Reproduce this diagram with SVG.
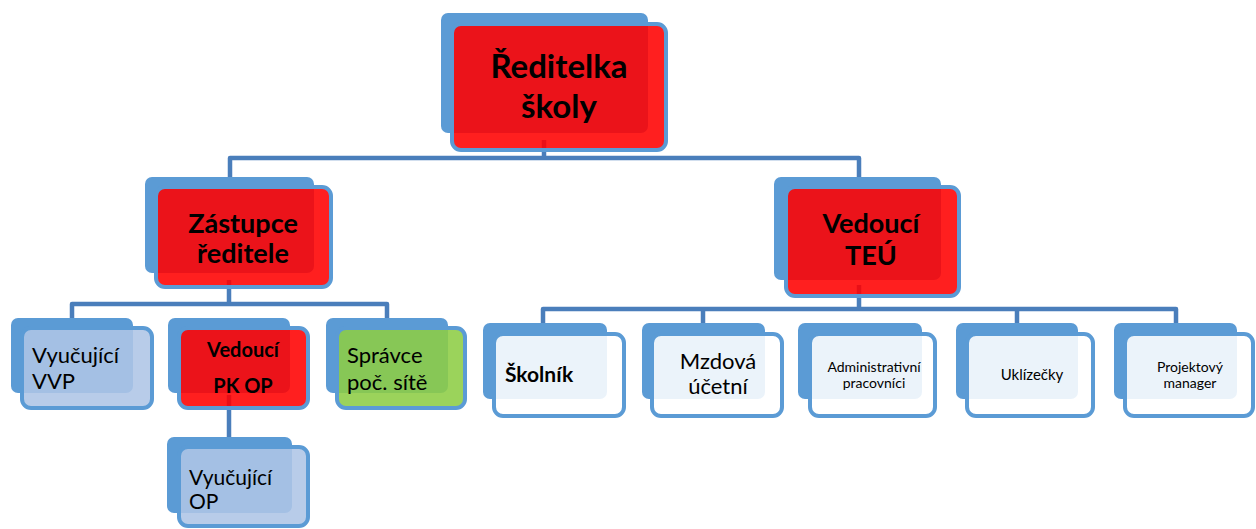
<svg xmlns="http://www.w3.org/2000/svg" width="1256" height="529" viewBox="0 0 1256 529">
<style>
.back{fill:#5B9BD5}
.front{stroke:#5B9BD5;stroke-width:4;fill-opacity:0.88}
.red{fill:#FF0000}
.lb{fill:#AEC5E6}
.gr{fill:#8DCD44}
.wh{fill:#FFFFFF}
.conn{fill:none;stroke:#4A7EBB;stroke-width:4.5;stroke-linejoin:round}
text{font-family:Lato,"Liberation Sans",sans-serif;fill:#000}
.b{font-weight:bold}
.m{text-anchor:middle}
</style>
<rect width="1256" height="529" fill="#fff"/>
<g id="connectors">
<path class="conn" d="M544,140V158M230,185V158H859V185"/>
<path class="conn" d="M229,280V304M72,320V304H387V320"/>
<path class="conn" d="M229,395V440"/>
<path class="conn" d="M859,285V309M543,325V309H1176V325M703,309V325M1017,309V325"/>
</g>
<g id="n-reditelka">
<rect class="back" x="441" y="13" width="207" height="120" rx="7"/>
<rect class="front red" x="452" y="24" width="214" height="126" rx="9"/>
<text class="b m" x="559" y="78" font-size="33">Ředitelka</text>
<text class="b m" x="559" y="118" font-size="33">školy</text>
</g>
<g id="n-zastupce">
<rect class="back" x="145" y="177" width="169" height="96" rx="7"/>
<rect class="front red" x="156" y="187" width="175" height="100" rx="9"/>
<text class="b m" x="243" y="233" font-size="27">Zástupce</text>
<text class="b m" x="243" y="263" font-size="27">ředitele</text>
</g>
<g id="n-teu">
<rect class="back" x="774" y="177" width="167" height="103" rx="7"/>
<rect class="front red" x="786" y="187" width="173" height="109" rx="9"/>
<text class="b m" x="871" y="233" font-size="27">Vedoucí</text>
<text class="b m" x="871" y="265" font-size="27">TEÚ</text>
</g>
<g id="n-vvp">
<rect class="back" x="11" y="318" width="122" height="75" rx="7"/>
<rect class="front lb" x="22" y="328" width="130" height="80" rx="9"/>
<text x="32" y="363" font-size="22">Vyučující</text>
<text x="32" y="389" font-size="22">VVP</text>
</g>
<g id="n-pkop">
<rect class="back" x="168" y="318" width="122" height="75" rx="7"/>
<rect class="front red" x="179" y="328" width="129" height="80" rx="9"/>
<text class="b m" x="243" y="357" font-size="20">Vedoucí</text>
<text class="b m" x="243" y="393" font-size="20">PK OP</text>
</g>
<g id="n-spravce">
<rect class="back" x="326" y="318" width="122" height="75" rx="7"/>
<rect class="front gr" x="337" y="328" width="128" height="80" rx="9"/>
<text x="347" y="363" font-size="22">Správce</text>
<text x="347" y="390" font-size="22">poč. sítě</text>
</g>
<g id="n-vyucop">
<rect class="back" x="167" y="437" width="125" height="76" rx="7"/>
<rect class="front lb" x="179" y="447" width="129" height="79" rx="9"/>
<text x="189" y="485" font-size="21">Vyučující</text>
<text x="189" y="509" font-size="21">OP</text>
</g>
<g id="n-skolnik">
<rect class="back" x="483" y="323" width="124" height="76" rx="7"/>
<rect class="front wh" x="494" y="334" width="130" height="82" rx="9"/>
<text class="b" x="505" y="382" font-size="21">Školník</text>
</g>
<g id="n-mzdova">
<rect class="back" x="642" y="323" width="123" height="76" rx="7"/>
<rect class="front wh" x="652" y="334" width="130" height="82" rx="9"/>
<text class="m" x="718" y="369" font-size="22">Mzdová</text>
<text class="m" x="718" y="394" font-size="22">účetní</text>
</g>
<g id="n-admin">
<rect class="back" x="798" y="323" width="124" height="76" rx="7"/>
<rect class="front wh" x="810" y="334" width="125" height="82" rx="9"/>
<text class="m" x="874" y="372" font-size="14">Administrativní</text>
<text class="m" x="874" y="388" font-size="14">pracovníci</text>
</g>
<g id="n-uklizecky">
<rect class="back" x="956" y="323" width="122" height="76" rx="7"/>
<rect class="front wh" x="967" y="334" width="126" height="82" rx="9"/>
<text class="m" x="1032" y="380" font-size="15">Uklízečky</text>
</g>
<g id="n-projekt">
<rect class="back" x="1114" y="323" width="123" height="76" rx="7"/>
<rect class="front wh" x="1125" y="334" width="128" height="82" rx="9"/>
<text class="m" x="1190" y="372" font-size="14">Projektový</text>
<text class="m" x="1190" y="388" font-size="14">manager</text>
</g>
</svg>
